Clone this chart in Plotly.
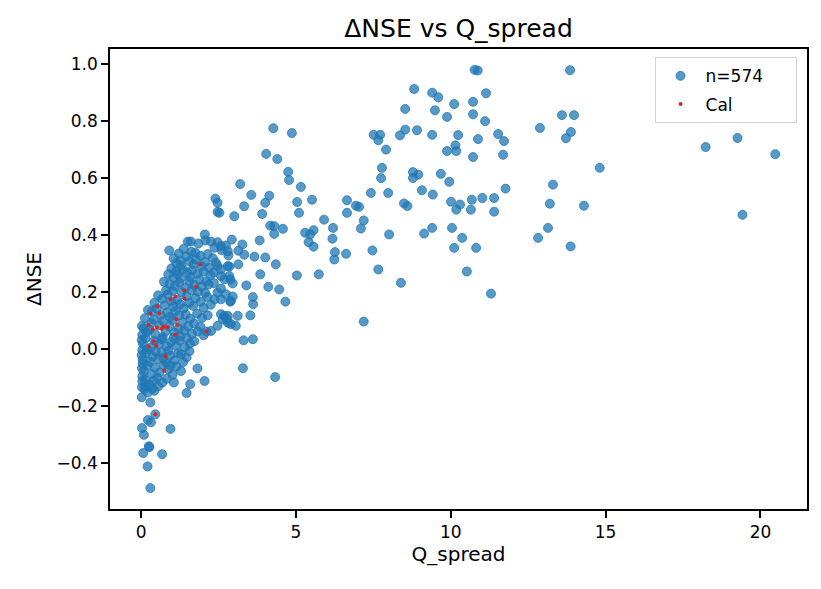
import plotly.graph_objects as go

# scattered points (Q_spread, dNSE)
sparse_x = [10.77, 10.87, 8.82, 9.40, 9.60, 11.14, 8.53, 9.49, 10.11, 10.72, 10.72, 9.88, 11.11,
            7.51, 7.72, 7.66, 7.91, 8.36, 8.53, 8.91, 9.40, 10.24, 10.88, 11.53, 11.72, 10.15,
            9.88, 10.18, 10.72, 11.69, 7.78, 7.75, 8.78, 8.95, 8.78, 9.68, 9.95, 7.42, 7.98,
            9.07, 9.42, 8.49, 8.60, 10.01, 10.30, 10.18, 10.68, 10.65, 11.02, 11.40, 11.77, 11.40,
            8.01, 9.14, 9.40, 10.04, 10.37, 10.11, 10.82, 7.47, 7.66, 8.39, 10.52, 11.30,
            13.85, 13.59, 13.98, 12.88, 13.88, 13.72, 14.81, 13.30, 13.20, 14.30, 13.14, 12.82, 13.87,
            18.23, 19.26, 19.42, 20.48, 7.19]
sparse_y = [0.980, 0.978, 0.913, 0.900, 0.884, 0.898, 0.843, 0.838, 0.860, 0.868, 0.824, 0.815, 0.800,
            0.752, 0.752, 0.733, 0.700, 0.750, 0.770, 0.768, 0.752, 0.751, 0.737, 0.755, 0.730, 0.715,
            0.695, 0.695, 0.674, 0.682, 0.636, 0.600, 0.621, 0.612, 0.600, 0.615, 0.587, 0.548, 0.548,
            0.557, 0.542, 0.511, 0.502, 0.517, 0.507, 0.489, 0.524, 0.489, 0.530, 0.530, 0.563, 0.482,
            0.402, 0.405, 0.425, 0.425, 0.390, 0.355, 0.355, 0.346, 0.279, 0.232, 0.272, 0.194,
            0.979, 0.821, 0.821, 0.776, 0.762, 0.740, 0.636, 0.577, 0.510, 0.503, 0.425, 0.390, 0.360,
            0.709, 0.741, 0.471, 0.684, 0.096]

mid_x = [4.27, 4.87, 4.04, 4.40, 4.75, 4.78, 3.20, 5.16, 3.56, 4.14, 4.01, 3.33, 3.01, 5.04, 5.52,
         5.10, 3.91, 6.65, 6.94, 7.04, 6.65, 7.19, 7.10, 5.91, 6.20, 6.18, 4.17, 4.30, 4.58, 4.30,
         5.30, 5.46, 5.57, 5.41, 5.57, 3.27, 3.83, 2.82, 3.33, 3.66, 4.01, 4.35, 6.26, 6.24, 6.62,
         3.85, 5.03, 5.74, 3.40, 4.11, 4.46, 3.61, 3.62, 4.66, 3.53, 2.58, 2.77, 2.90, 3.31, 3.61,
         3.29, 4.33, 2.26, 2.47, 2.80, 2.34, 2.58, 2.85, 2.96, 2.58, 2.47, 2.74, 2.96, 2.37, 2.88,
         2.40, 2.47, 2.47, 2.53, 0.91, 2.06, 2.08, 1.51, 1.61, 1.85, 2.26, 2.47, 2.58, 2.74, 2.93,
         2.37, 2.60, 2.80, 1.75, 1.77, 1.29, 1.56, 1.13, 2.06, 2.20, 2.42, 2.58, 2.85, 2.88, 3.14,
         3.14, 2.58, 2.90, 3.06, 3.12, 2.11, 2.80, 2.64, 2.69, 2.80, 2.47, 2.69]
mid_y = [0.775, 0.758, 0.685, 0.667, 0.622, 0.593, 0.579, 0.569, 0.541, 0.538, 0.513, 0.501, 0.466, 0.516, 0.524,
         0.478, 0.474, 0.522, 0.503, 0.499, 0.478, 0.451, 0.423, 0.454, 0.425, 0.387, 0.433, 0.431, 0.422, 0.404,
         0.408, 0.402, 0.417, 0.375, 0.359, 0.367, 0.381, 0.328, 0.331, 0.324, 0.321, 0.297, 0.340, 0.314, 0.334,
         0.262, 0.258, 0.262, 0.223, 0.218, 0.209, 0.182, 0.157, 0.166, 0.118, 0.122, 0.104, 0.087, 0.030, 0.034,
         -0.068, -0.099, 0.063, 0.291, 0.291, 0.268, 0.256, 0.256, 0.230, 0.212, 0.198, 0.192, 0.184, 0.174, 0.166,
         0.528, 0.513, 0.481, 0.478, 0.346, 0.402, 0.381, 0.377, 0.377, 0.370, 0.377, 0.375, 0.361, 0.363, 0.384,
         0.355, 0.347, 0.343, 0.338, 0.314, 0.293, 0.308, 0.273, 0.305, 0.285, 0.303, 0.279, 0.289, 0.244, 0.345,
         0.297, 0.174, 0.168, 0.081, 0.116, 0.061, 0.116, 0.104, 0.244, 0.092, 0.081, 0.116]

tail_x = [0.03, 0.09, 0.22, 0.32, 0.46, 0.07, 0.25, 0.27, 0.68, 0.21, 0.30, 0.95, 0.30, 0.02, 0.43,
          0.03, 0.11, 0.22, 1.47, 1.59, 2.05, 1.82, 1.47, 1.20]
tail_y = [-0.278, -0.302, -0.250, -0.258, -0.230, -0.366, -0.342, -0.345, -0.370, -0.413, -0.489, -0.281, -0.188, -0.170, -0.147,
          -0.135, -0.141, -0.153, -0.155, -0.124, -0.113, -0.069, -0.030, -0.015]

dense_x = [1.22, 1.38, 1.05, 1.47, 1.62, 1.92, 2.15, 1.28, 1.70, 1.95, 2.32, 1.14,
           0.98, 1.18, 1.36, 1.49, 1.65, 1.82, 2.02, 2.24, 1.04, 1.27, 1.58, 1.88, 2.11, 0.88,
           0.74, 0.92, 1.09, 1.24, 1.43, 1.56, 1.72, 1.96, 2.18, 2.35, 0.81, 1.02, 1.31, 1.63, 1.84, 2.07,
           0.55, 0.68, 0.86, 0.97, 1.17, 1.26, 1.47, 1.55, 1.76, 1.93, 2.14, 2.25, 0.43, 0.76, 1.05, 1.38, 1.68, 2.02,
           0.22, 0.35, 0.51, 0.63, 0.84, 0.93, 1.11, 1.23, 1.44, 1.59, 1.81, 1.97, 2.15, 0.12, 0.41, 0.71, 1.02, 1.33, 1.71, 1.91,
           0.03, 0.08, 0.19, 0.33, 0.46, 0.60, 0.79, 0.92, 1.08, 1.21, 1.39, 1.52, 1.64, 1.83, 2.02, 0.04, 0.27, 0.70, 1.27, 1.48,
           0.02, 0.06, 0.14, 0.32, 0.43, 0.58, 0.67, 0.83, 0.97, 1.13, 1.24, 1.41, 1.58, 1.72, 0.04, 0.20, 0.89, 1.05,
           0.02, 0.05, 0.16, 0.28, 0.38, 0.55, 0.66, 0.81, 0.94, 1.07, 1.29, 1.36, 1.56, 0.05, 0.47, 0.72,
           0.03, 0.09, 0.21, 0.34, 0.45, 0.60, 0.73, 0.88, 1.02, 1.14, 1.29, 0.04, 0.52, 0.95,
           0.04, 0.13, 0.27, 0.41, 0.56, 0.69, 0.83, 1.06, 0.15, 0.36]
dense_y = [0.335, 0.352, 0.318, 0.325, 0.341, 0.327, 0.333, 0.310, 0.297, 0.290, 0.318, 0.301,
           0.283, 0.262, 0.279, 0.268, 0.276, 0.264, 0.271, 0.258, 0.251, 0.247, 0.252, 0.243, 0.237, 0.262,
           0.236, 0.228, 0.221, 0.232, 0.215, 0.238, 0.224, 0.219, 0.226, 0.231, 0.206, 0.203, 0.199, 0.206, 0.201, 0.197,
           0.188, 0.176, 0.191, 0.167, 0.172, 0.157, 0.184, 0.161, 0.178, 0.166, 0.183, 0.155, 0.162, 0.153, 0.148, 0.143, 0.151, 0.144,
           0.137, 0.131, 0.142, 0.119, 0.128, 0.112, 0.133, 0.118, 0.121, 0.106, 0.124, 0.109, 0.118, 0.108, 0.103, 0.097, 0.101, 0.094, 0.089, 0.078,
           0.081, 0.072, 0.058, 0.091, 0.052, 0.083, 0.061, 0.079, 0.057, 0.071, 0.064, 0.079, 0.053, 0.061, 0.048, 0.049, 0.067, 0.041, 0.044, 0.038,
           0.031, 0.018, 0.037, 0.005, 0.029, 0.017, 0.034, 0.009, 0.024, 0.012, 0.029, 0.006, 0.019, 0.027, -0.004, -0.001, -0.006, 0.039,
           -0.022, -0.038, -0.015, -0.045, -0.027, -0.036, -0.012, -0.048, -0.024, -0.041, -0.019, -0.046, -0.008, -0.051, -0.009, -0.031,
           -0.068, -0.079, -0.058, -0.088, -0.066, -0.083, -0.057, -0.072, -0.091, -0.062, -0.078, -0.097, -0.101, -0.058,
           -0.114, -0.109, -0.124, -0.112, -0.131, -0.118, -0.105, -0.118, -0.131, -0.139]

cal_x = [1.91, 1.78, 1.40, 1.40, 1.11, 0.95, 0.53, 0.30, 0.59, 1.14, 1.17, 0.24, 0.38, 0.51,
         0.67, 0.73, 0.86, 1.11, 0.40, 0.24, 0.49, 0.78, 0.75, 2.11, 0.46]
cal_y = [0.296, 0.218, 0.205, 0.177, 0.184, 0.173, 0.149, 0.124, 0.124, 0.104, 0.085, 0.085, 0.069, 0.075,
         0.071, 0.078, 0.077, 0.050, 0.027, 0.008, 0.012, -0.027, -0.076, 0.062, -0.230]

all_x = sparse_x + mid_x + tail_x + dense_x
all_y = sparse_y + mid_y + tail_y + dense_y

pad = "\u00a0" * 5  # extra room at the right of the legend box
blue = "rgba(31,119,180,0.75)"
fig = go.Figure()
fig.add_trace(go.Scatter(x=all_x, y=all_y, mode="markers", name="n=574" + pad, legendgroup="a",
                         marker=dict(size=9, color=blue, line=dict(color=blue, width=1))))
fig.add_trace(go.Scatter(x=cal_x, y=cal_y, mode="markers", name="Cal" + pad, legendgroup="b",
                         marker=dict(size=4, color="#d62728")))

# matplotlib style 5% margins
ymin, ymax = min(all_y + cal_y), max(all_y + cal_y)
xmin, xmax = min(all_x + cal_x), max(all_x + cal_x)
yp = (ymax - ymin) * 0.05
xp = (xmax - xmin) * 0.05

font = "DejaVu Sans, Arial, sans-serif"
axis_common = dict(showline=True, linecolor="black", linewidth=1.5, mirror=True,
                   ticks="outside", ticklen=7, tickwidth=1.5, tickcolor="black",
                   showgrid=False, zeroline=False,
                   tickfont=dict(size=17, color="black"))

fig.update_layout(
    width=821, height=589,
    margin=dict(l=102, r=22, t=41, b=88),
    plot_bgcolor="white", paper_bgcolor="white",
    font=dict(family=font, color="black", size=17),
    title=dict(text="ΔNSE vs Q_spread", x=0.5, xref="paper", y=1 - 20 / 589,
               yref="container", yanchor="middle", font=dict(size=25)),
    showlegend=True,
    legend=dict(x=0.985, y=0.982, xanchor="right", yanchor="top",
                bgcolor="rgba(255,255,255,0.8)", bordercolor="#d0d0d0", borderwidth=1,
                font=dict(size=17), itemsizing="trace", itemwidth=40, tracegroupgap=3),
)
fig.update_xaxes(range=[xmin - xp, xmax + xp], tick0=0, dtick=5,
                 title=dict(text="Q_spread", standoff=6), **axis_common)
fig.update_yaxes(range=[ymin - yp, ymax + yp], tick0=0, dtick=0.2, tickformat=".1f",
                 title=dict(text="ΔNSE", standoff=10), **axis_common)

fig.write_html("out.html")
